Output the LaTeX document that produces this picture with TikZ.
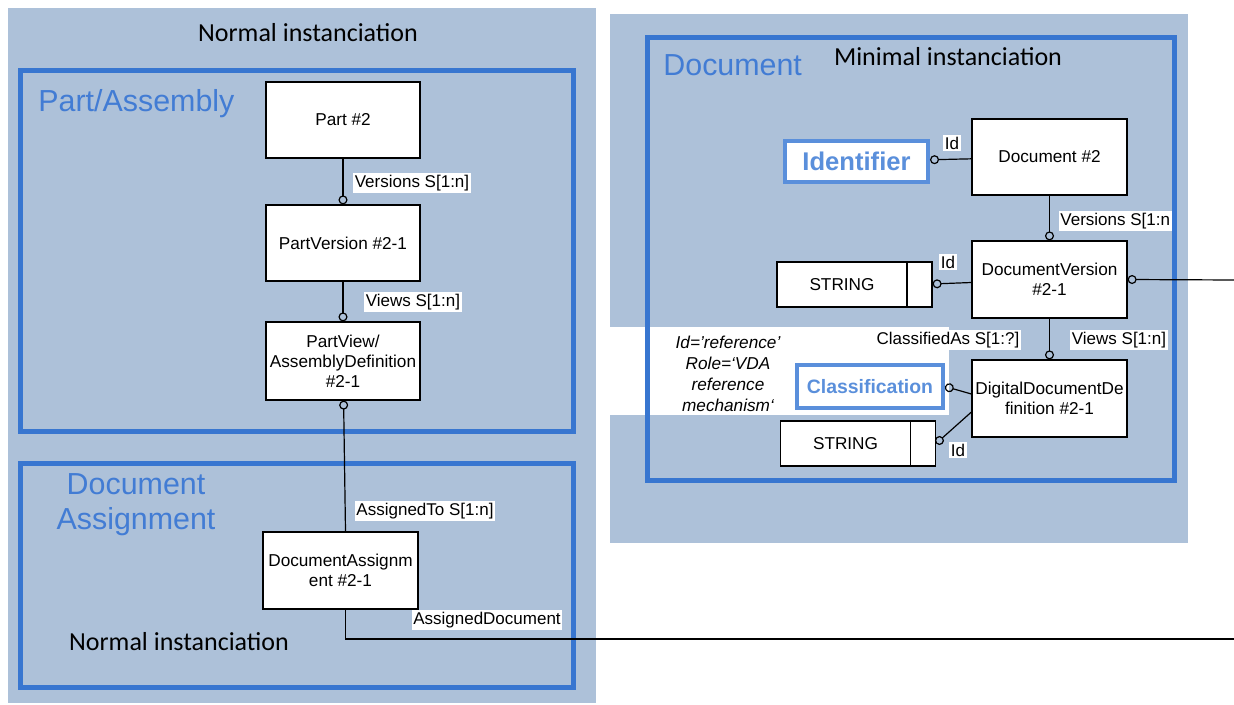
\documentclass[tikz,border=0pt]{standalone}
\usepackage{fontspec}
\setmainfont{Liberation Sans}
\newfontfamily\calibfont{Carlito}
\usetikzlibrary{positioning, calc, arrows.meta}
\definecolor{PanelGrey}{RGB}{173, 193, 217}
\definecolor{FrameBlue}{RGB}{56, 118, 208}
\definecolor{TitleBlue}{RGB}{66, 124, 212}
\definecolor{RefBlue}{RGB}{90, 143, 219}
\tikzset{ring/.tip={Circle[open, length=4.5pt, width=4.5pt]}}

\begin{document}
\begin{tikzpicture}[x=0.5pt, y=-0.5pt,
          box/.style={draw, fill=white, line width=0.6pt, minimum width=77pt,
                      minimum height=38pt, align=center, inner sep=1pt,
                      font=\fontsize{8.6}{10}\selectfont},
          strbox/.style={draw, fill=white, line width=0.6pt, minimum width=65pt,
                      minimum height=22.5pt, inner sep=0pt, font=\fontsize{8.6}{10}\selectfont},
          strend/.style={draw, fill=white, line width=0.6pt, minimum width=12.5pt,
                      minimum height=22.5pt, inner sep=0pt},
          refbox/.style={draw=RefBlue, fill=white, line width=2pt, inner sep=0pt, text=RefBlue},
          lbl/.style={fill=white, inner sep=0.8pt, font=\fontsize{8.5}{10}\selectfont},
          frame/.style={draw=FrameBlue, line width=2.5pt},
          title/.style={text=TitleBlue, align=center, inner sep=0pt,
                      font=\fontsize{15.2}{17.5}\selectfont},
          note/.style={font=\calibfont\fontsize{13}{15}\selectfont},
          conn/.style={line width=0.6pt}
        ]
        \useasboundingbox (0,0) rectangle (1234,705);

        \fill[PanelGrey] (8,8) rectangle (596,703);
        \fill[PanelGrey] (610,14) rectangle (1188,543);
        \fill[white] (610,327) rectangle (949,415);

        \draw[frame] (20.5,70.5) rectangle (573.5,431.5);
        \draw[frame] (20.5,463.5) rectangle (573.5,687.5);
        \draw[frame] (647.5,37.5) rectangle (1174.5,480.5);

        \node[note] (normtop) at (308,33) {Normal instanciation};
        \node[note] (normbot) at (179,642) {Normal instanciation};
        \node[note] (minimal) at (948,57) {Minimal instanciation};
        \node[title, anchor=west] (ttlpart) at (38,104) {Part/Assembly};
        \node[title] (ttlassign) at (136,504.5) {Document\\Assignment};
        \node[title, anchor=west] (ttldoc) at (663,65) {Document};

        \node[box] (part)     at (343,120)   {Part \#2};
        \node[box] (partver)  at (343,243)   {PartVersion \#2-1};
        \node[box, minimum height=39pt] (partview) at (343,361)
              {PartView/\\AssemblyDefinition\\\#2-1};
        \node[box, minimum width=77.5pt, minimum height=38.5pt] (docassign) at (340.5,570.5)
              {DocumentAssignm\\ent \#2-1};

        \node[box, minimum width=77.5pt] (doc)    at (1049.5,157)   {Document \#2};
        \node[box, minimum width=77.5pt, minimum height=38.5pt] (docver) at (1049.5,279.5)
              {DocumentVersion\\\#2-1};
        \node[box, minimum width=77.5pt, minimum height=38.5pt] (ddd)    at (1049.5,398.5)
              {DigitalDocumentDe\\finition \#2-1};

        \node[refbox, minimum width=71.5pt, minimum height=20.5pt,
              font=\bfseries\fontsize{12.8}{15}\selectfont] (ident) at (856.5,161.5) {Identifier};
        \node[refbox, minimum width=73pt, minimum height=21.5pt,
              font=\bfseries\fontsize{9.7}{12}\selectfont] (classif) at (870,386.5) {Classification};

        \node[strbox] (str1)    at (842,284.5)   {STRING};
        \node[strend] (str1end) at (919.5,284.5) {};
        \node[strbox] (str2)    at (845.5,443.5) {STRING};
        \node[strend] (str2end) at (923,443.5)   {};

        \node[align=center, font=\itshape\fontsize{8.6}{10.5}\selectfont] (refnote) at (728,374)
              {Id=’reference’\\Role=‘VDA\\reference\\mechanism‘};

        \coordinate (edgelow) at (1234,639);
        \coordinate (edgeup)  at (1234,280);

        \draw[conn, -ring] (part)    -- (partver);
        \draw[conn, -ring] (partver) -- (partview);
        \draw[conn, ring-] (partview) -- ([xshift=2.5pt]docassign.north);
        \draw[conn] ([xshift=2.5pt]docassign.south) |- (edgelow);

        \draw[conn, ring-] (ident)   -- (doc);
        \draw[conn, -ring] (doc)     -- (docver);
        \draw[conn, ring-] (str1end) -- (docver);
        \draw[conn, ring-] (docver.east) -- (edgeup);
        \draw[conn, -ring] (docver)  -- (ddd);
        \draw[conn, ring-] (classif.east) -- ([yshift=2.25pt]ddd.west);
        \draw[conn, ring-] (str2end.east) -- ([yshift=-6.75pt]ddd.west);

        \node[lbl] (lblpv)   at (412,183) {Versions S[1:n]};
        \node[lbl] (lblpw)   at (413,302) {Views S[1:n]};
        \node[lbl] (lblat)   at (425,511) {AssignedTo S[1:n]};
        \node[lbl] (lblad)   at (487,620) {AssignedDocument};
        \node[lbl] (lblid1)  at (952,143) {Id};
        \node[lbl, anchor=east] (lbldv) at (1172,221) {Versions S[1:n};
        \node[lbl] (lblid2)  at (948,262) {Id};
        \node[lbl] (lblca)   at (948,340) {ClassifiedAs S[1:?]};
        \node[lbl] (lbldw)   at (1119,340) {Views S[1:n]};
        \node[lbl] (lblid3)  at (958,450) {Id};
      \end{tikzpicture}
\end{document}
